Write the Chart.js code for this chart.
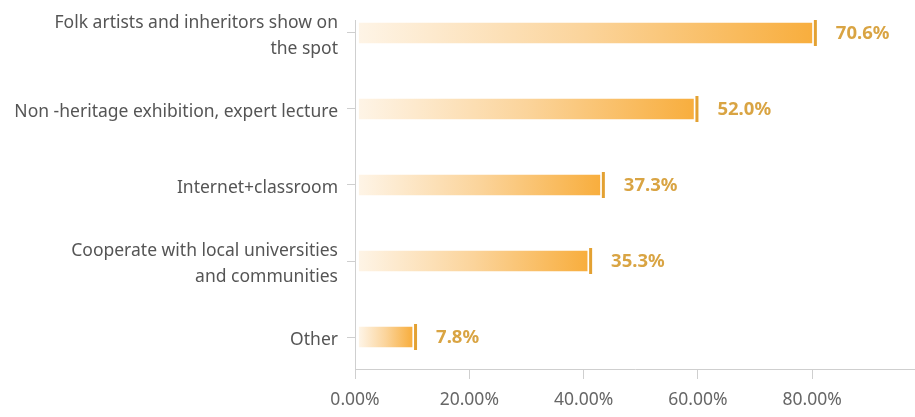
<!DOCTYPE html>
<html>
<head>
<meta charset="utf-8">
<script src="https://cdn.jsdelivr.net/npm/chart.js@4/dist/chart.umd.min.js"></script>
<style>
  html, body { margin: 0; padding: 0; background: #ffffff; }
  #wrap { width: 915px; height: 417px; }
</style>
</head>
<body>
<div id="wrap"><canvas id="c" width="915" height="417"></canvas></div>
<script>
// ---- data ----
const categories = [
  ["Folk artists and inheritors show on", "the spot"],
  "Non -heritage exhibition, expert lecture",
  "Internet+classroom",
  ["Cooperate with local universities", "and communities"],
  "Other"
];
const values = [70.6, 52.0, 37.3, 35.3, 7.8];
const xTickValues = [0, 20, 40, 60, 80];

const FONT = "'Noto Sans', 'Open Sans', sans-serif";
const BAR_MIN = -1.16, BAR_MAX = 86.8;

const markerPlugin = {
  id: 'markers',
  afterDatasetsDraw(chart) {
    const ctx = chart.ctx;
    const meta = chart.getDatasetMeta(0);
    ctx.save();
    meta.data.forEach((el, i) => {
      const x = el.x, y = el.y;
      ctx.fillStyle = '#e3a132';
      ctx.fillRect(x + 2, y - 13, 3, 26);
      ctx.fillStyle = '#d9a443';
      ctx.font = "bold 18.5px " + FONT;
      ctx.textAlign = 'left';
      ctx.textBaseline = 'middle';
      ctx.fillText(values[i].toFixed(1) + '%', x + 24, y + 1);
    });
    ctx.restore();
  }
};

new Chart(document.getElementById('c'), {
  type: 'bar',
  data: {
    datasets: [{
      data: values.map((v, i) => ({ x: v, y: i })),
      xAxisID: 'xb',
      yAxisID: 'y',
      base: -0.5,
      barThickness: 20,
      borderWidth: 0,
      backgroundColor: (c) => {
        const chart = c.chart;
        const sc = chart.scales && chart.scales.xb;
        if (!chart.chartArea || !sc || c.raw == null) return '#f8b044';
        const x0 = sc.getPixelForValue(-0.5);
        const x1 = sc.getPixelForValue(c.raw.x);
        const g = chart.ctx.createLinearGradient(x0, 0, x1, 0);
        g.addColorStop(0, 'rgba(254,244,230,1)');
        g.addColorStop(0.5, 'rgba(251,212,155,1)');
        g.addColorStop(1, 'rgba(248,174,62,1)');
        return g;
      }
    }]
  },
  options: {
    indexAxis: 'y',
    responsive: false,
    animation: false,
    layout: { padding: { top: 20, left: 0, right: 0, bottom: 0 } },
    plugins: { legend: { display: false }, tooltip: { enabled: false } },
    scales: {
      xb: {
        type: 'linear', display: false, position: 'bottom',
        min: BAR_MIN, max: BAR_MAX
      },
      x: {
        type: 'linear', position: 'bottom', min: 0, max: 98,
        afterBuildTicks: (s) => { s.ticks = xTickValues.map(v => ({ value: v })); },
        afterFit: (s) => { s.height = 48; s.paddingLeft = 0; s.paddingRight = 0; },
        grid: { drawOnChartArea: false, tickLength: 10, color: '#cfcfcf' },
        border: { display: true, color: '#cfcfcf' },
        ticks: {
          color: '#666666', padding: 11,
          font: { family: FONT, size: 17.5 },
          callback: (v) => Number(v).toFixed(2) + '%'
        }
      },
      y: {
        type: 'linear', reverse: true, min: -0.171, max: 4.421,
        offset: false,
        afterBuildTicks: (s) => { s.ticks = categories.map((c, i) => ({ value: i })); },
        afterFit: (s) => { s.width = 355; s.paddingTop = 0; s.paddingBottom = 0; },
        grid: { drawOnChartArea: false, offset: false, tickLength: 8, color: '#cfcfcf' },
        border: { display: true, color: '#cfcfcf' },
        ticks: {
          color: '#555555', padding: 9, labelOffset: 3,
          font: { family: FONT, size: 17.5, lineHeight: 1.5 },
          callback: (v) => categories[v]
        }
      }
    }
  },
  plugins: [markerPlugin]
});
</script>
</body>
</html>
